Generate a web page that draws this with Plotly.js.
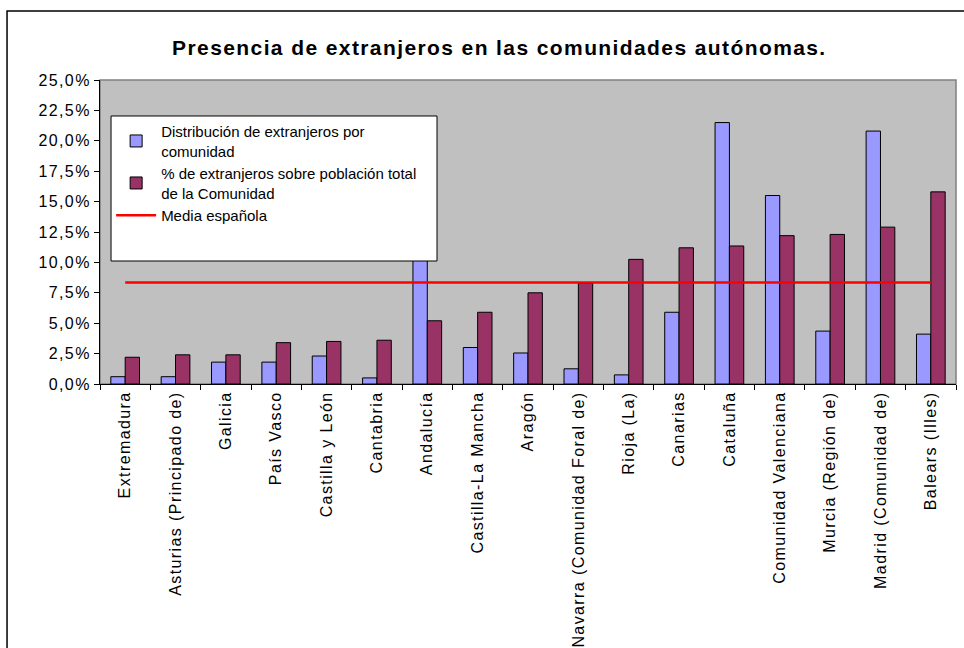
<!DOCTYPE html>
<html>
<head>
<meta charset="utf-8">
<script src="https://cdn.plot.ly/plotly-3.0.1.min.js"></script>
<style>
  body { margin: 0; background: #fff; }
  #chart { width: 964px; height: 648px; }
  /* Excel draws its text slightly spaced out */
  #chart .xtick text, #chart .ytick text { letter-spacing: 1.4px; }
  #chart .gtitle { letter-spacing: 1.4px; }
</style>
</head>
<body>
<div id="chart"></div>
<script>
const comunidades = [
  'Extremadura', 'Asturias (Principado de)', 'Galicia', 'País Vasco',
  'Castilla y León', 'Cantabria', 'Andalucía', 'Castilla-La Mancha',
  'Aragón', 'Navarra (Comunidad Foral de)', 'Rioja (La)', 'Canarias',
  'Cataluña', 'Comunidad Valenciana', 'Murcia (Región de)',
  'Madrid (Comunidad de)', 'Balears (Illes)'
];

// % del total de extranjeros que vive en cada comunidad
const distribucion = [0.6, 0.6, 1.8, 1.8, 2.3, 0.5, 12.2, 3.0, 2.55, 1.25, 0.75,
  5.9, 21.5, 15.5, 4.35, 20.8, 4.1];

// % de extranjeros sobre la población de la comunidad
const porcentaje = [2.2, 2.4, 2.4, 3.4, 3.5, 3.6, 5.2, 5.9, 7.5, 8.3, 10.25,
  11.2, 11.35, 12.2, 12.3, 12.9, 15.8];

const mediaEspanola = [8.35, 8.35, 8.35, 8.35, 8.35, 8.35, 8.35, 8.35, 8.35,
  8.35, 8.35, 8.35, 8.35, 8.35, 8.35, 8.35, 8.35];

const yTicks = [0, 2.5, 5, 7.5, 10, 12.5, 15, 17.5, 20, 22.5, 25];
const yTickLabels = ['0,0%', '2,5%', '5,0%', '7,5%', '10,0%', '12,5%', '15,0%',
  '17,5%', '20,0%', '22,5%', '25,0%'];

const fontFam = 'Arial, "Liberation Sans", sans-serif';

const traces = [
  {
    type: 'bar',
    name: 'Distribución de extranjeros por<br>comunidad',
    legendgroup: 'dist',
    x: comunidades,
    y: distribucion,
    marker: { color: '#9999FF', line: { color: '#000', width: 1 } }
  },
  {
    type: 'bar',
    name: '% de extranjeros sobre población total<br>de la Comunidad',
    legendgroup: 'pct',
    x: comunidades,
    y: porcentaje,
    marker: { color: '#993366', line: { color: '#000', width: 1 } }
  },
  {
    type: 'scatter',
    mode: 'lines',
    name: 'Media española',
    legendgroup: 'media',
    x: comunidades,
    y: mediaEspanola,
    line: { color: '#FF0000', width: 2.5 }
  }
];

const layout = {
  width: 964,
  height: 648,
  margin: { l: 100, r: 8, t: 80, b: 264 },
  paper_bgcolor: '#fff',
  plot_bgcolor: '#C0C0C0',
  font: { family: fontFam, color: '#000' },
  title: {
    text: '<b>Presencia de extranjeros en las comunidades autónomas.</b>',
    font: { size: 21, family: fontFam, color: '#000' },
    xref: 'container', x: 0.518, xanchor: 'center',
    yref: 'container', y: 0.926, yanchor: 'middle'
  },
  barmode: 'group',
  bargap: 0.43,
  bargroupgap: 0,
  showlegend: true,
  legend: {
    x: 0.013, y: 0.885, xanchor: 'left', yanchor: 'top',
    bgcolor: 'rgba(0,0,0,0)', borderwidth: 0,
    font: { size: 15, family: fontFam },
    traceorder: 'normal',
    tracegroupgap: 7,
    itemwidth: 40
  },
  xaxis: {
    type: 'category',
    tickangle: -90,
    tickson: 'boundaries',
    ticks: 'outside', ticklen: 5, tickcolor: '#000',
    showline: true, linecolor: '#000', linewidth: 1,
    showgrid: false, zeroline: false,
    tickfont: { size: 16, family: fontFam },
    fixedrange: true
  },
  yaxis: {
    range: [0, 25],
    tickmode: 'array',
    tickvals: yTicks,
    ticktext: yTickLabels,
    ticks: 'outside', ticklen: 5, tickcolor: '#000',
    showline: true, linecolor: '#000', linewidth: 1,
    showgrid: false, zeroline: false,
    tickfont: { size: 16, family: fontFam },
    fixedrange: true
  },
  shapes: [
    {
      // plot area frame
      type: 'rect', xref: 'paper', yref: 'paper', layer: 'below',
      x0: 0, x1: 1, y0: 0, y1: 1,
      line: { color: '#808080', width: 1.5 }
    },
    {
      // legend box, sized like Excel's
      type: 'rect', xref: 'paper', yref: 'paper', layer: 'above',
      x0: 0.0129, x1: 0.3937, y0: 0.4046, y1: 0.8816,
      fillcolor: '#fff',
      line: { color: '#000', width: 1 }
    },
    {
      // outer chart border
      type: 'rect', xref: 'paper', yref: 'paper', layer: 'above',
      x0: -0.1086, x1: 1.012, y0: -0.95, y1: 1.227,
      line: { color: '#000', width: 1.5 }
    }
  ]
};

Plotly.newPlot('chart', traces, layout, { displayModeBar: false, staticPlot: true });
</script>
</body>
</html>
